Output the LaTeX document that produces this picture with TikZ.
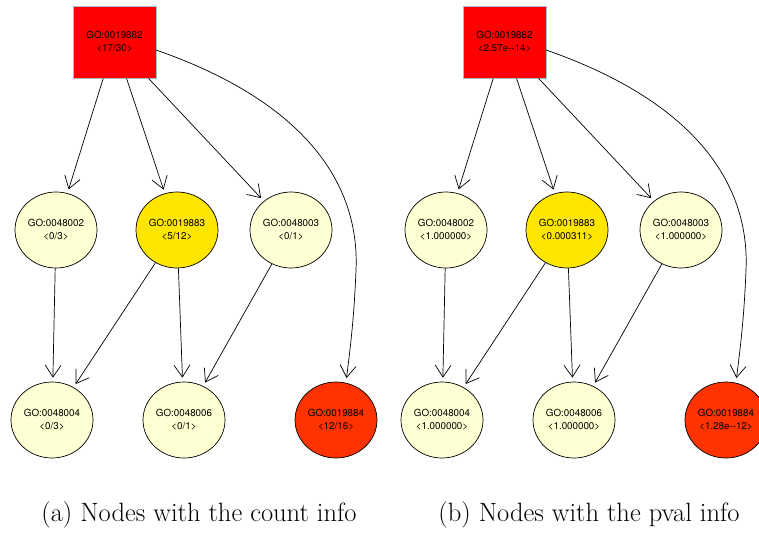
\documentclass[tikz,border=0pt]{standalone}
\usepackage{fontspec}
\newfontfamily\gvfont{TeX Gyre Heros}
\usetikzlibrary{shapes.geometric,arrows.meta}

\definecolor{termred}{HTML}{FF0000}
\definecolor{termborder}{HTML}{A8BCD0}
\definecolor{termyellow}{HTML}{FFE600}
\definecolor{termpale}{HTML}{FFFFD4}
\definecolor{termorange}{HTML}{FF3300}

\tikzset{
  gobox/.style={rectangle, draw=termborder, line width=0.8pt, fill=termred,
    minimum width=83pt, minimum height=72pt, inner sep=0pt,
    align=center, font=\gvfont\fontsize{9.8}{12.8}\selectfont},
  goterm/.style={ellipse, draw=black, line width=0.7pt,
    minimum width=82pt, minimum height=76pt, inner sep=0pt,
    align=center, font=\gvfont\fontsize{9.8}{12.8}\selectfont},
  isa/.style={draw=black, line width=0.7pt,
    -{Straight Barb[length=12pt,width=16pt,line width=0.7pt]}, shorten >=4pt},
  caption/.style={font=\fontsize{26.5}{30}\selectfont, inner sep=0pt}
}

% One GO subgraph: #1..#7 are the node labels, #8 the caption
\newcommand\gopanel[8]{%
  \node[gobox] (root) at (114.5,42) {GO:0019882\\#1};
  \node[goterm, fill=termpale]   (t48002) at (56,230)  {GO:0048002\\#2};
  \node[goterm, fill=termyellow] (t19883) at (177,230) {GO:0019883\\#3};
  \node[goterm, fill=termpale]   (t48003) at (291,230) {GO:0048003\\#4};
  \node[goterm, fill=termpale]   (t48004) at (52,420)  {GO:0048004\\#5};
  \node[goterm, fill=termpale]   (t48006) at (184,420) {GO:0048006\\#6};
  \node[goterm, fill=termorange] (t19884) at (336,420) {GO:0019884\\#7};
  \coordinate (cstart) at (156,50);
  \coordinate (cend) at (346,382);
  \draw[isa] (root) -- (t48002);
  \draw[isa] (root) -- (t19883);
  \draw[isa] (root) -- (t48003);
  \draw[isa] (cstart) .. controls (300,100) and (360,180) .. (356,270)
                      .. controls (354,320) and (350,350) .. (cend);
  \draw[isa] (t48002) -- (t48004);
  \draw[isa] (t19883) -- (t48004);
  \draw[isa] (t19883) -- (t48006);
  \draw[isa] (t48003) -- (t48006);
  \node[caption] (cap) at (199,515) {#8};
}

\begin{document}
\begin{tikzpicture}[x=1pt,y=-1pt]
  \useasboundingbox (0,0) rectangle (759,533);
  \begin{scope}[name prefix=a-]
    \gopanel{<17/30>}{<0/3>}{<5/12>}{<0/1>}{<0/3>}{<0/1>}{<12/16>}
      {(a) Nodes with the count info}
  \end{scope}
  \begin{scope}[name prefix=b-, shift={(390,0)}]
    \gopanel{<2.57e--14>}{<1.000000>}{<0.000311>}{<1.000000>}{<1.000000>}{<1.000000>}{<1.28e--12>}
      {(b) Nodes with the pval info}
  \end{scope}
\end{tikzpicture}
\end{document}
